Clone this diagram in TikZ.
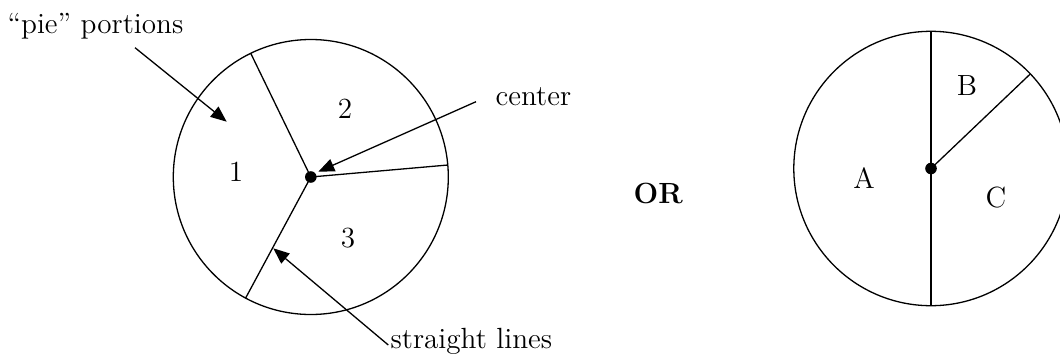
\documentclass[tikz,border=0pt]{standalone}
\usetikzlibrary{arrows.meta}
\begin{document}
\begin{tikzpicture}[x=0.5pt,y=-0.5pt,
  line width=0.65pt,
  txt/.style={inner sep=0pt,font=\fontsize{14.6}{17}\selectfont},
  lbl/.style={inner sep=0pt,font=\fontsize{14.6}{17}\selectfont},
  arr/.style={-{Triangle[length=8pt,width=6.5pt]}},
  dot/.style={circle,fill=black,inner sep=0pt,minimum size=5.8pt}]
\useasboundingbox (0,0) rectangle (1060,354);
\clip (0,0) rectangle (1060,354);
% left pie
\coordinate (lc) at (310.8,177);
\draw (lc) circle [radius=68.75pt];
\draw (lc) -- ++(115.9:68.75pt);
\draw (lc) -- ++(5:68.75pt);
\draw (lc) -- ++(241.7:68.75pt);
\node[dot] (ldot) at (lc) {};
\node[lbl] (n1) at (236,172) {1};
\node[lbl] (n2) at (345,109) {2};
\node[lbl] (n3) at (348,238) {3};
% annotations
\node[txt,anchor=base west] (pie) at (7,33) {``pie'' portions};
\node[txt,anchor=base west] (cen) at (495,105) {center};
\node[txt,anchor=base west] (str) at (390,348) {straight lines};
\coordinate (pietail) at (135,47.7);
\coordinate (pietip) at (226.7,121.7);
\coordinate (centail) at (476,101.7);
\coordinate (centip) at (318.3,171.7);
\coordinate (strtail) at (388.3,345);
\coordinate (strtip) at (273.3,248.3);
\draw[arr] (pietail) -- (pietip);
\draw[arr] (centail) -- (centip);
\draw[arr] (strtail) -- (strtip);
% OR
\node[txt,anchor=base west,font=\fontsize{14.6}{17}\selectfont\bfseries] (or) at (633,203) {OR};
% right pie
\coordinate (rc) at (931,168.5);
\draw (rc) circle [radius=68.6pt];
\draw (rc) ++(90:68.6pt) -- ++(270:137.2pt);
\draw (rc) -- ++(43.6:68.6pt);
\node[dot] (rdot) at (rc) {};
\node[lbl] (nA) at (864,178) {A};
\node[lbl] (nB) at (967,86) {B};
\node[lbl] (nC) at (996,198) {C};
\end{tikzpicture}
\end{document}
